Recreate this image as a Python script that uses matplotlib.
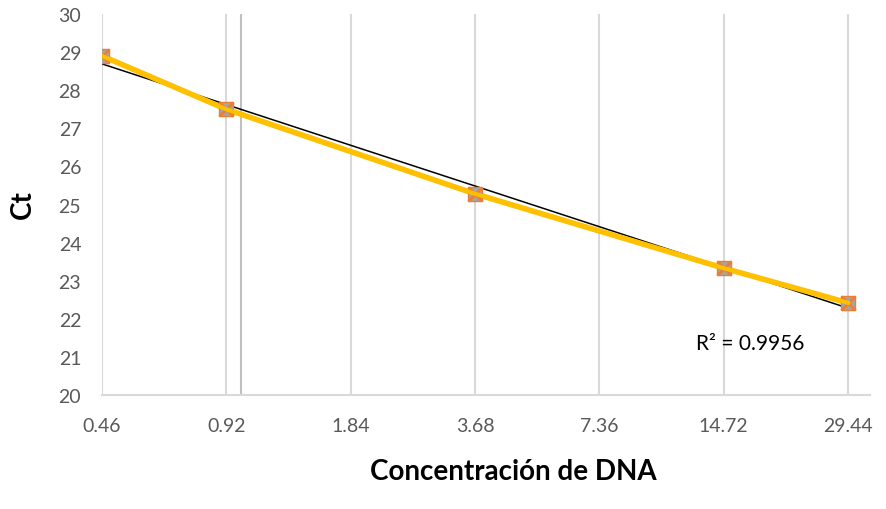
import numpy as np
import matplotlib.pyplot as plt

# data
conc = [0.46, 0.92, 3.68, 14.72, 29.44]
ct = [28.9, 27.5, 25.28, 23.33, 22.42]
tick_vals = [0.46, 0.92, 1.84, 3.68, 7.36, 14.72, 29.44]
tick_labels = ['0.46', '0.92', '1.84', '3.68', '7.36', '14.72', '29.44']

plt.rcParams['font.family'] = ['Lato', 'DejaVu Sans']

fig = plt.figure(figsize=(8.86, 5.10), dpi=100)
ax = fig.add_axes([0.1151, 0.2235, 0.867, 0.7471])

ax.set_xscale('log', base=2)
ax.set_xlim(0.46, 33.3)
ax.set_ylim(20, 30)

# vertical gridlines
for v in tick_vals:
    ax.axvline(v, color='#d9d9d9', lw=1.5, zorder=0)
ax.axvline(1.0, color='#bfbfbf', lw=1.5, zorder=0)

# trendline (linear in log2 x)
lx = np.log2(conc)
m, b = np.polyfit(lx, ct, 1)
xt = np.array([conc[0], conc[-1]])
ax.plot(xt, m * np.log2(xt) + b, color='black', lw=1.1, zorder=2)

# series
ax.plot(conc, ct, color='#ffc000', lw=4, zorder=3)
ax.plot(conc, ct, ls='none', marker='s', ms=10, mfc='#a5a5a5', mec='#ed7d31', mew=1, zorder=4)
ax.plot(conc, ct, ls='none', marker='x', ms=10, mec='#ed7d31', mew=2, zorder=5)
ax.plot(conc, ct, color='#ffc000', lw=3, zorder=6)

ax.text(12.6, 21.36, 'R² = 0.9956', fontsize=15, color='black', va='center', ha='left')

ax.set_xticks(tick_vals)
ax.set_xticklabels(tick_labels)
ax.minorticks_off()
ax.set_yticks(range(20, 31))
ax.tick_params(axis='both', length=0, labelsize=14, labelcolor='#595959')
ax.tick_params(axis='x', pad=16)
ax.tick_params(axis='y', pad=15)

for s in ['top', 'right', 'left']:
    ax.spines[s].set_visible(False)
ax.spines['bottom'].set_color('#d9d9d9')
ax.spines['bottom'].set_linewidth(1.5)

fig.text(23 / 886, 1 - 205 / 510, 'Ct', fontsize=20, fontweight='bold',
         rotation=90, ha='center', va='center')
fig.text(513 / 886, 1 - 480 / 510, 'Concentración de DNA', fontsize=20,
         fontweight='bold', ha='center', va='baseline')

fig.savefig('out.png', dpi=100)
